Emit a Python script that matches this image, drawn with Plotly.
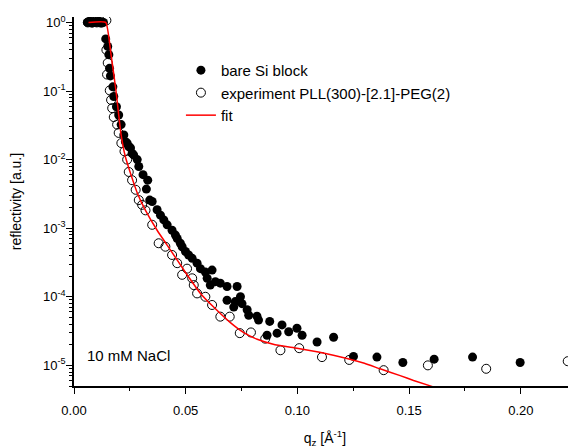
import plotly.graph_objects as go

# ---- data ----
q_bare = [0.0060, 0.0070, 0.0080, 0.0090, 0.0100, 0.0110, 0.0120, 0.0132,
          0.0142, 0.0151, 0.0156, 0.0159, 0.0163, 0.0174, 0.0178, 0.0190,
          0.0200, 0.0211, 0.0223, 0.0230, 0.0238, 0.0245, 0.0253, 0.0260,
          0.0267, 0.0283, 0.0290, 0.0309, 0.0330, 0.0324, 0.0339, 0.0350,
          0.0372, 0.0387, 0.0402, 0.0417, 0.0439, 0.0454, 0.0462, 0.0476,
          0.0484, 0.0499, 0.0513, 0.0529, 0.0551, 0.0566, 0.0588, 0.0618,
          0.0596, 0.0610, 0.0633, 0.0655, 0.0685, 0.0730, 0.0685, 0.0722,
          0.0715, 0.0745, 0.0752, 0.0775, 0.0782, 0.0819, 0.0826, 0.0864,
          0.0876, 0.0909, 0.0931, 0.0961, 0.0998, 0.1021, 0.1088, 0.1162,
          0.1251, 0.1356, 0.1472, 0.1612, 0.1784, 0.1997]
r_bare = [1.00, 1.04, 0.98, 1.02, 1.00, 1.04, 0.98, 1.00,
          0.575, 0.447, 0.339, 0.214, 0.166, 0.115, 0.0832, 0.0589,
          0.0447, 0.0324, 0.0229, 0.0182, 0.0174, 0.0155, 0.0148, 0.0123,
          0.0117, 0.0100, 0.00794, 0.00603, 0.00501, 0.00372, 0.00257, 0.00245,
          0.00186, 0.00155, 0.00132, 0.00112, 9.33e-4, 7.94e-4, 7.08e-4, 6.03e-4,
          5.37e-4, 4.57e-4, 4.07e-4, 3.63e-4, 3.09e-4, 2.57e-4, 2.29e-4, 2.45e-4,
          1.86e-4, 1.48e-4, 1.66e-4, 1.58e-4, 1.41e-4, 1.41e-4, 8.91e-5, 8.51e-5,
          7.08e-5, 1.0e-4, 7.94e-5, 6.46e-5, 5.37e-5, 5.2e-5, 4.57e-5, 2.75e-5,
          4.37e-5, 2.95e-5, 3.89e-5, 3.09e-5, 3.47e-5, 2.75e-5, 2.19e-5, 2.57e-5,
          1.35e-5, 1.32e-5, 1.10e-5, 1.23e-5, 1.32e-5, 1.10e-5]

q_exp = [0.0062, 0.0072, 0.0082, 0.0092, 0.0102, 0.0112, 0.0125, 0.0145,
         0.0145, 0.0151, 0.0148, 0.0160, 0.0166, 0.0171, 0.0178, 0.0193,
         0.0200, 0.0212, 0.0226, 0.0238, 0.0245, 0.0260, 0.0276, 0.0290,
         0.0305, 0.0320, 0.0350, 0.0379, 0.0409, 0.0439, 0.0462, 0.0484,
         0.0506, 0.0529, 0.0536, 0.0551, 0.0588, 0.0618, 0.0655, 0.0697,
         0.0742, 0.0792, 0.0856, 0.0924, 0.1008, 0.1110, 0.1232, 0.1386,
         0.1584, 0.1845, 0.2210]
r_exp = [1.00, 1.02, 1.00, 1.02, 1.00, 1.02, 1.00, 1.07,
         0.398, 0.257, 0.174, 0.102, 0.0741, 0.0562, 0.0417, 0.0324,
         0.0245, 0.0174, 0.0132, 0.0100, 0.00661, 0.00501, 0.00363, 0.00257,
         0.00219, 0.00182, 0.00112, 6.03e-4, 5.37e-4, 4.07e-4, 3.09e-4, 2.09e-4,
         2.57e-4, 1.86e-4, 1.48e-4, 1.12e-4, 1.0e-4, 7.59e-5, 5.13e-5, 5.13e-5,
         2.95e-5, 3.02e-5, 2.45e-5, 1.66e-5, 1.78e-5, 1.32e-5, 1.20e-5, 8.51e-6,
         1.0e-5, 8.91e-6, 1.15e-5]

q_fit = [0.0065, 0.0142, 0.0165, 0.0188, 0.0210, 0.0230, 0.0253, 0.0285,
         0.0320, 0.0372, 0.0432, 0.0500, 0.0566, 0.0625, 0.0700, 0.0760,
         0.0820, 0.0900, 0.0998, 0.1100, 0.1222, 0.1300, 0.1370, 0.1460,
         0.1520, 0.1605]
r_fit = [1.0, 1.0, 0.355, 0.1, 0.024, 0.011, 0.0063, 0.00316,
         0.00182, 9.33e-4, 4.79e-4, 2.24e-4, 1.12e-4, 7.08e-5, 4.2e-5, 3.0e-5,
         2.4e-5, 2.0e-5, 1.78e-5, 1.55e-5, 1.26e-5, 1.07e-5, 8.91e-6, 7.08e-6,
         6.03e-6, 4.9e-6]

y_tick_vals = [1e-5, 1e-4, 1e-3, 1e-2, 1e-1, 1]
y_tick_text = ["10<sup>-5</sup>", "10<sup>-4</sup>", "10<sup>-3</sup>",
               "10<sup>-2</sup>", "10<sup>-1</sup>", "10<sup>0</sup>"]
x_tick_vals = [0.0, 0.05, 0.10, 0.15, 0.20]
x_tick_text = ["0.00", "0.05", "0.10", "0.15", "0.20"]

FONT = "Liberation Sans, Arial, sans-serif"

fig = go.Figure()
fig.add_trace(go.Scatter(
    x=q_bare, y=r_bare, mode="markers", name="bare Si block",
    marker=dict(symbol="circle", size=9, color="black", line=dict(width=0)),
))
fig.add_trace(go.Scatter(
    x=q_exp, y=r_exp, mode="markers", name="experiment PLL(300)-[2.1]-PEG(2)",
    marker=dict(symbol="circle-open", size=9, color="black", line=dict(width=1)),
))
fig.add_trace(go.Scatter(
    x=q_fit, y=r_fit, mode="lines", name="fit",
    line=dict(color="#ff0000", width=1.5, shape="spline", smoothing=0.4),
))

minor_y = [m * 10.0 ** e for e in range(-6, 1) for m in range(2, 10)]

# the page body adds an 8 px margin, so the figure is sized 568x440 to fill the 576x448 window
fig.update_layout(
    width=568, height=440,
    margin=dict(l=66, r=0, t=9, b=62),
    paper_bgcolor="white", plot_bgcolor="white",
    font=dict(family=FONT, size=13, color="black"),
    showlegend=True,
    legend=dict(x=0.213, y=0.9, xanchor="left", yanchor="top",
                bgcolor="rgba(0,0,0,0)", font=dict(size=15, family=FONT),
                tracegroupgap=0, itemsizing="trace"),
    xaxis=dict(
        range=[0, 0.2247], showline=True, linecolor="black", linewidth=1.5,
        showgrid=False, zeroline=False, ticks="outside", ticklen=6, tickwidth=1.2,
        tickcolor="black", tickvals=x_tick_vals, ticktext=x_tick_text,
        tickfont=dict(size=13), ticklabelstandoff=6, automargin=False,
        minor=dict(ticks="outside", ticklen=3, tickwidth=1.2, tickcolor="black",
                   tickvals=[0.025, 0.075, 0.125, 0.175, 0.225], showgrid=False),
        title=dict(text="q<sub>z</sub> [Å<sup>-1</sup>]", font=dict(size=14), standoff=19),
        mirror=False,
    ),
    yaxis=dict(
        type="log", range=[-5.301, 0.0792], showline=True, linecolor="black",
        linewidth=1.5, showgrid=False, zeroline=False, ticks="outside", ticklen=6,
        tickwidth=1.2, tickcolor="black", tickvals=y_tick_vals, ticktext=y_tick_text,
        tickfont=dict(size=13), ticklabelstandoff=-2, automargin=False,
        minor=dict(ticks="outside", ticklen=3, tickwidth=1, tickcolor="black",
                   tickvals=minor_y, showgrid=False),
        title=dict(text="reflectivity [a.u.]", font=dict(size=14), standoff=19),
        mirror=False,
    ),
    annotations=[dict(text="10 mM NaCl", xref="paper", yref="paper",
                      x=0.021, y=0.084, xanchor="left", yanchor="middle",
                      showarrow=False, font=dict(size=15, family=FONT))],
)

fig.write_html("out.html")
